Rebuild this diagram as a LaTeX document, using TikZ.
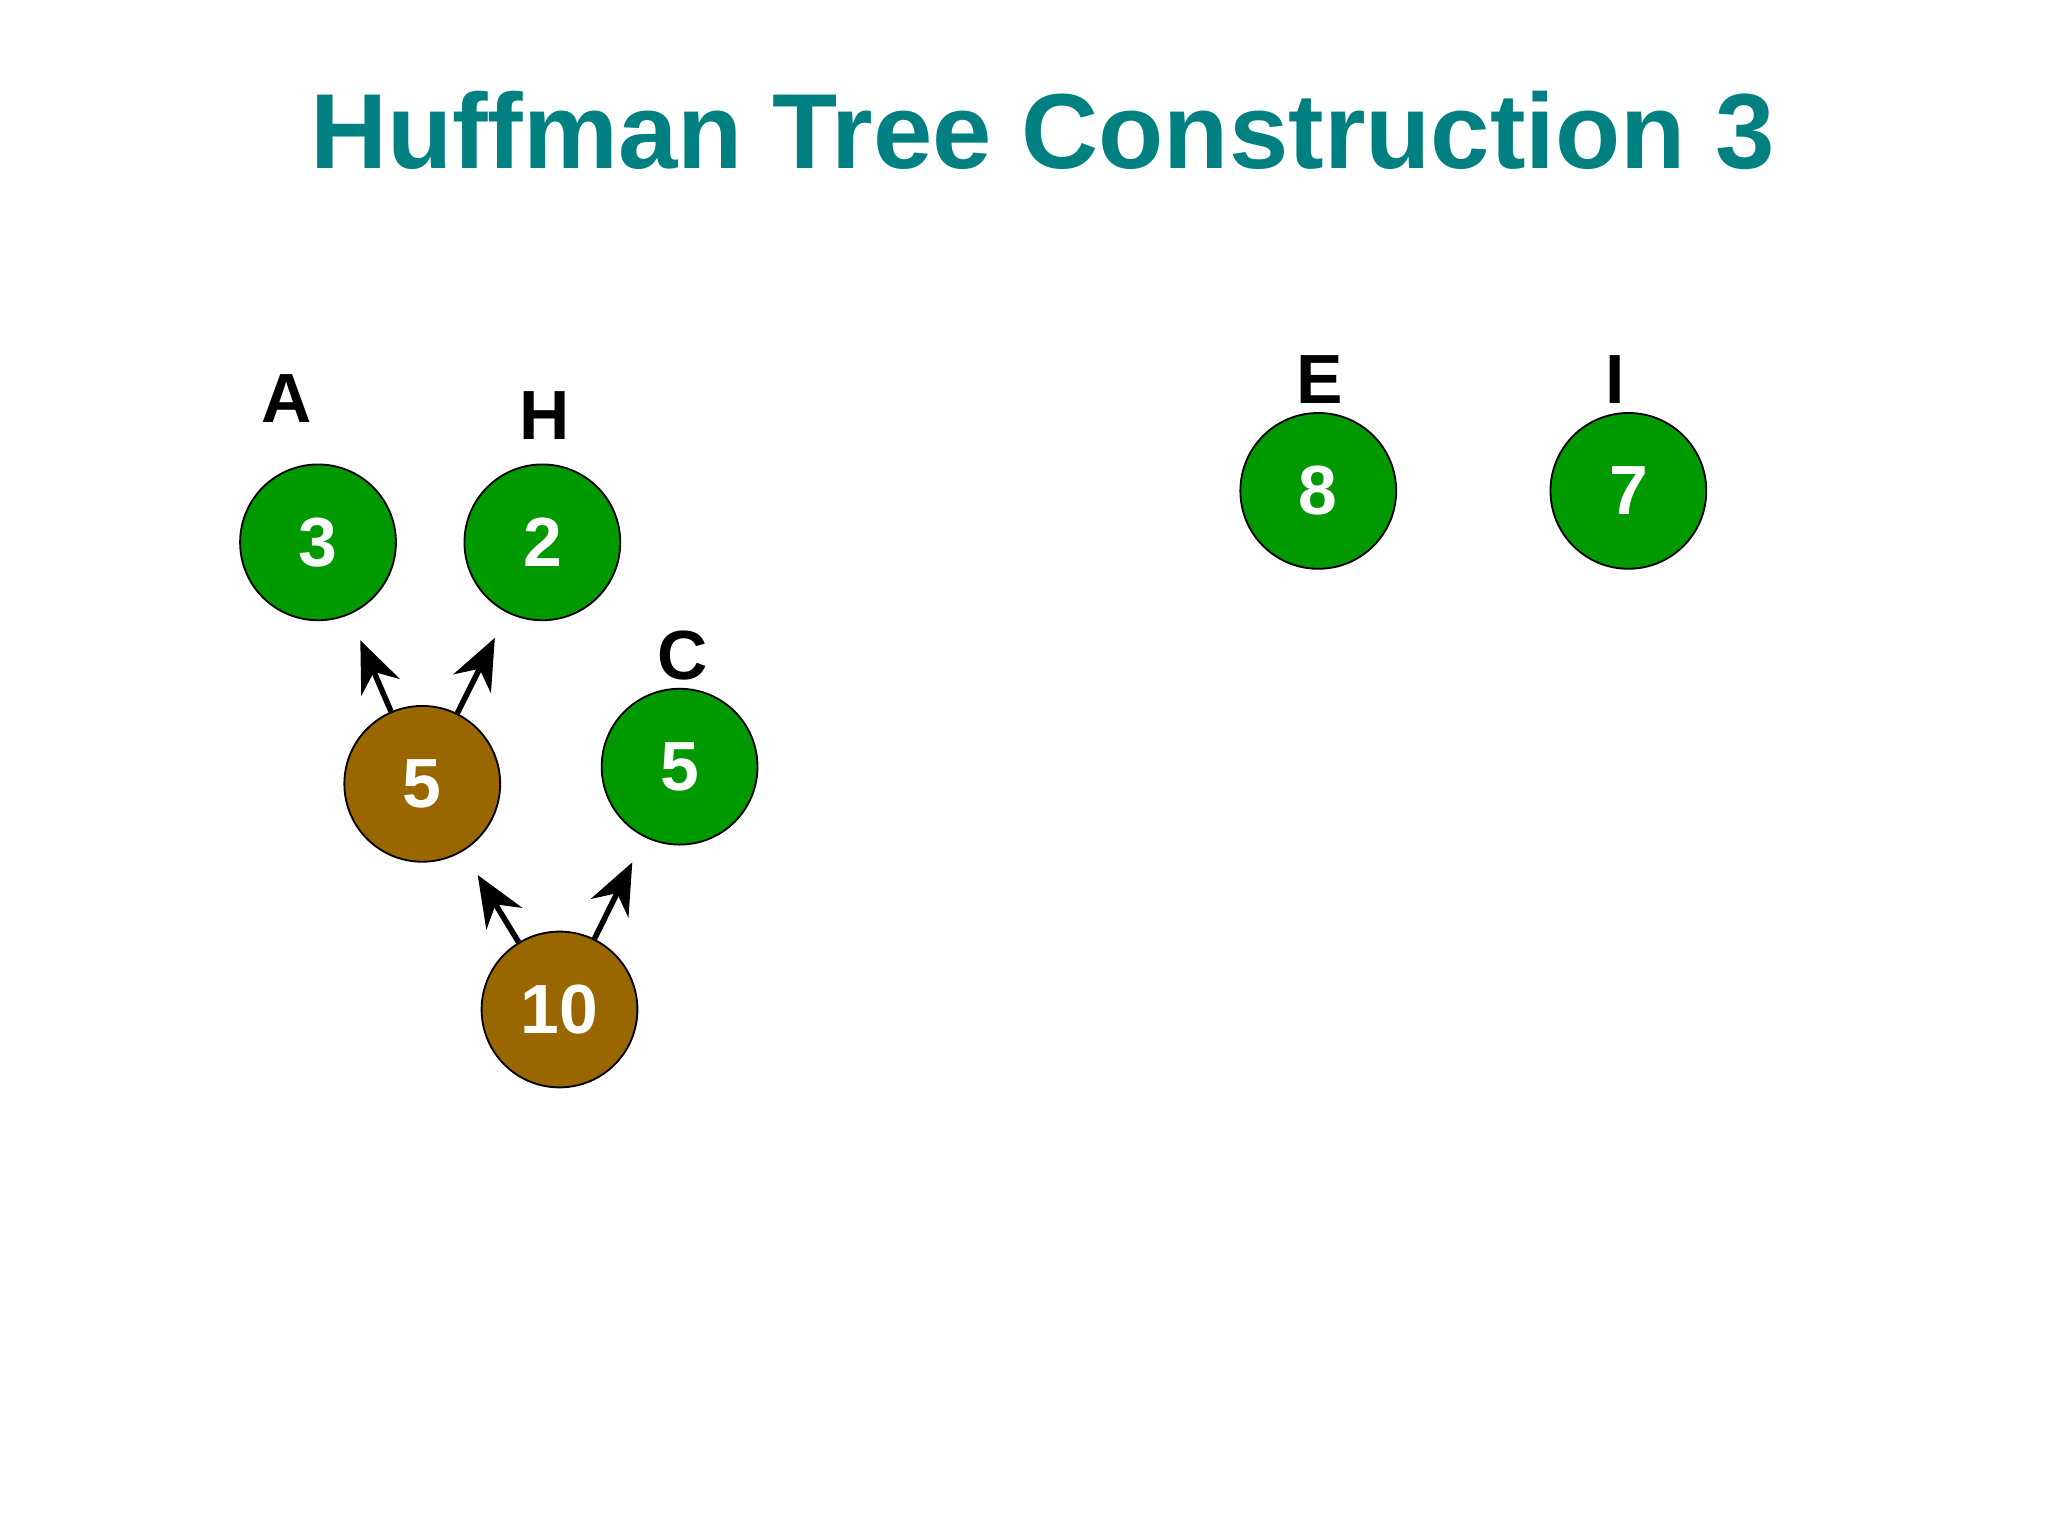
\documentclass[tikz,border=0pt]{standalone}
\usepackage{fontspec}
\setmainfont{Liberation Sans}
\usetikzlibrary{arrows.meta}
\definecolor{titleteal}{RGB}{0,128,128}
\definecolor{leafgreen}{RGB}{0,153,0}
\definecolor{sumbrown}{RGB}{153,102,0}
\tikzset{>={Stealth[length=11pt,width=9pt]}}
\tikzset{
  leaf/.style={circle, draw=black, fill=leafgreen, minimum size=1.18cm, inner sep=0pt,
    text=white, font=\bfseries\fontsize{15}{15}\selectfont},
  sumnode/.style={leaf, fill=sumbrown},
  lbl/.style={font=\bfseries\fontsize{15}{15}\selectfont},
  link/.style={->, line width=1.2pt, shorten >=6pt}
}

\begin{document}
\begin{tikzpicture}[x=0.01cm, y=-0.01cm]

            % Page frame
            \useasboundingbox (0,0) rectangle (1552,1164);

            % Title
            \node[text=titleteal, font=\bfseries\fontsize{23}{23}\selectfont] (title) at (790,99) {Huffman Tree Construction 3};

            % Nodes
            \node[leaf] (na) at (241,411) {3};
            \node[leaf] (nh) at (411,411) {2};
            \node[leaf] (nc) at (515,581) {5};
            \node[sumnode] (nah) at (320,594) {5};
            \node[sumnode] (nahc) at (424,765) {10};
            \node[leaf] (ne) at (999,372) {8};
            \node[leaf] (ni) at (1234,372) {7};

            % Letters
            \node[lbl] (la) at (217,302) {A};
            \node[lbl] (lh) at (413,315) {H};
            \node[lbl] (lc) at (517,497) {C};
            \node[lbl] (le) at (1000,288) {E};
            \node[lbl] (li) at (1224,288) {I};

            % Links
            \draw[link] (nah) -- (na);
            \draw[link] (nah) -- (nh);
            \draw[link] (nahc) -- (nah);
            \draw[link] (nahc) -- (nc);

\end{tikzpicture}
\end{document}
